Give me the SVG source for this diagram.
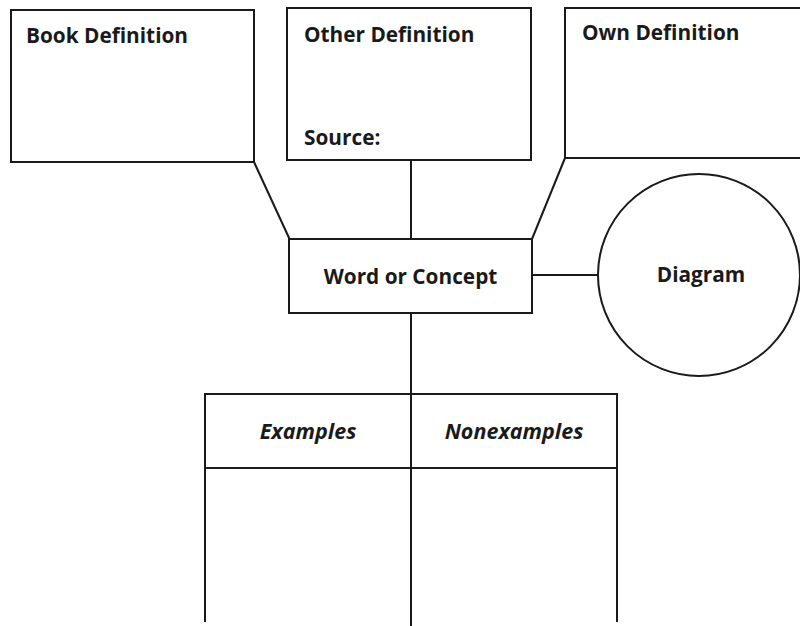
<svg xmlns="http://www.w3.org/2000/svg" width="800" height="626" viewBox="0 0 800 626">
<style>
.box{fill:#fff;stroke:#1a1a1a;stroke-width:2}
.ln{stroke:#1a1a1a;stroke-width:2;fill:none}
.t{font-family:"Open Sans","Noto Sans","Liberation Sans",sans-serif;font-weight:bold;font-size:20.8px;fill:#1a1a1a}
.i{font-style:italic;font-size:21.5px}
</style>
<rect width="800" height="626" fill="#fff"/>
<g id="connectors">
<line class="ln" x1="254" y1="162" x2="290" y2="240"/>
<line class="ln" x1="411" y1="160" x2="411" y2="240"/>
<line class="ln" x1="565" y1="158" x2="532" y2="239"/>
<line class="ln" x1="532" y1="275" x2="599" y2="275"/>
<line class="ln" x1="411" y1="313" x2="411" y2="394"/>
</g>
<g id="book">
<rect class="box" x="11" y="10" width="243" height="152"/>
<text class="t" x="26" y="43">Book Definition</text>
</g>
<g id="other">
<rect class="box" x="287" y="8" width="244" height="152"/>
<text class="t" x="304" y="42">Other Definition</text>
<text class="t" x="304" y="145">Source:</text>
</g>
<g id="own">
<path class="ln" d="M802,158 H565 V8 H802"/>
<text class="t" x="582" y="40">Own Definition</text>
</g>
<g id="word">
<rect class="box" x="289" y="239" width="243" height="74"/>
<text class="t" x="410.5" y="284" text-anchor="middle">Word or Concept</text>
</g>
<g id="diagram">
<circle class="box" cx="699" cy="275" r="101"/>
<text class="t" x="701" y="282" text-anchor="middle">Diagram</text>
</g>
<g id="table">
<path class="ln" d="M205,622 V394 H617 V622 M205,468 H617 M411,394 V626"/>
<text class="t i" x="308" y="439" text-anchor="middle">Examples</text>
<text class="t i" x="514" y="439" text-anchor="middle">Nonexamples</text>
</g>
</svg>
